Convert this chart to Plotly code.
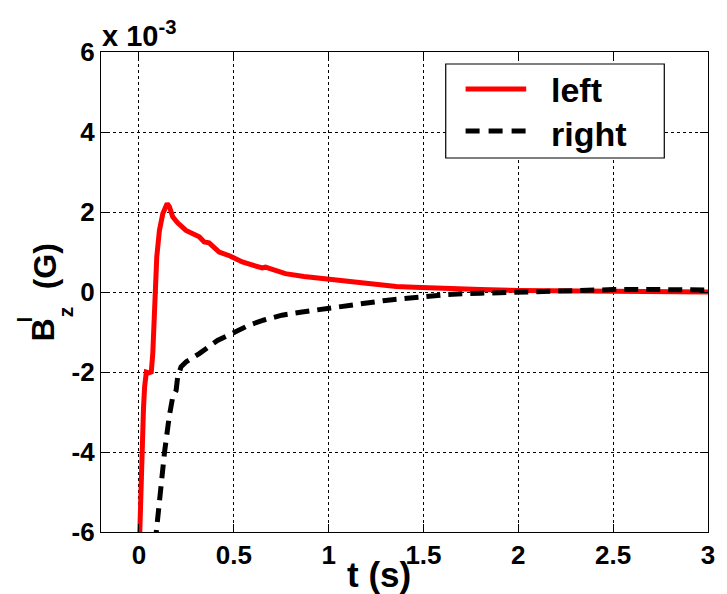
import plotly.graph_objects as go

# Time axis (s) and B_z^l in units of 1e-3 G
t_left = [0.002, 0.004, 0.012, 0.018, 0.024, 0.030, 0.039, 0.052, 0.065, 0.073, 0.079,
          0.086, 0.094, 0.108, 0.126, 0.149, 0.161, 0.178, 0.204, 0.248, 0.292, 0.318,
          0.344, 0.370, 0.423, 0.480, 0.545, 0.610, 0.650, 0.667, 0.700, 0.772, 0.870,
          0.980, 1.080, 1.190, 1.260, 1.357, 1.450, 1.610, 1.800, 2.000, 2.250, 2.500,
          2.750, 3.000]
bz_left = [-6.4, -6.0, -4.46, -3.58, -2.9, -2.37, -2.0, -2.02, -2.0, -1.54, -0.71,
           0.13, 0.88, 1.54, 1.96, 2.21, 2.13, 1.88, 1.73, 1.54, 1.46, 1.38,
           1.25, 1.23, 1.0, 0.9, 0.75, 0.66, 0.6, 0.62, 0.56, 0.46, 0.39,
           0.33, 0.27, 0.21, 0.18, 0.14, 0.12, 0.08, 0.06, 0.04, 0.03, 0.02,
           0.01, 0.0]

t_right = [0.085, 0.091, 0.108, 0.135, 0.160, 0.178, 0.196, 0.204, 0.222, 0.248, 0.318,
           0.414, 0.490, 0.580, 0.660, 0.754, 0.860, 0.980, 1.130, 1.300, 1.500,
           1.630, 1.800, 2.000, 2.300, 2.500, 2.750, 3.000]
bz_right = [-6.3, -6.0, -5.2, -4.0, -3.1, -2.63, -2.46, -2.13, -1.87, -1.75, -1.54,
            -1.21, -1.04, -0.83, -0.70, -0.58, -0.50, -0.42, -0.31, -0.21, -0.12,
            -0.06, -0.03, 0.0, 0.03, 0.06, 0.06, 0.05]

x_ticks = [0, 0.5, 1, 1.5, 2, 2.5, 3]
x_tick_text = ["0", "0.5", "1", "1.5", "2", "2.5", "3"]
y_ticks = [-6, -4, -2, 0, 2, 4, 6]
y_tick_text = ["-6", "-4", "-2", "0", "2", "4", "6"]
series_names = ["left", "right"]

FONT = "Liberation Sans"
W, H = 727, 594
ML, MR, MT, MB = 101, 15, 52, 62
PW, PH = W - ML - MR, H - MT - MB


def px(x):
    return (x - ML) / PW


def py(y):
    return (H - MB - y) / PH


fig = go.Figure()
fig.add_trace(go.Scatter(x=t_left, y=bz_left, mode="lines", name=series_names[0],
                         line=dict(color="#ff0000", width=5), showlegend=False))
fig.add_trace(go.Scatter(x=t_right, y=bz_right, mode="lines", name=series_names[1],
                         line=dict(color="#000000", width=5, dash="14px,8px"),
                         showlegend=False))

axis_common = dict(
    showline=True, mirror="ticks", linecolor="black", linewidth=1.2,
    ticks="inside", ticklen=8, tickcolor="black", tickwidth=1,
    showgrid=True, gridcolor="black", gridwidth=1, griddash="3px,3px",
    zeroline=False,
    tickfont=dict(family=FONT, size=26, color="black", weight="bold"),
)

fig.update_xaxes(range=[-0.2, 3], tickvals=x_ticks, ticktext=x_tick_text, **axis_common)
fig.update_yaxes(range=[-6, 6], tickvals=y_ticks, ticktext=y_tick_text, **axis_common)

annotations = [
    # exponent multiplier
    dict(x=px(100), y=py(34), text="x 10<sup>-3</sup>", xanchor="left", yanchor="middle",
         font=dict(size=29, weight="bold")),
    # x axis title
    dict(x=px(381), y=py(574), text="t (s)", xanchor="center", yanchor="middle",
         font=dict(size=35, weight="bold")),
    # y axis title, stacked sub/superscript
    dict(x=px(43), y=py(330), text="B", textangle=-90, xanchor="center", yanchor="middle",
         font=dict(size=32, weight="bold")),
    dict(x=px(23), y=py(320), text="l", textangle=-90, xanchor="center", yanchor="middle",
         font=dict(size=21, weight="bold")),
    dict(x=px(65), y=py(312), text="z", textangle=-90, xanchor="center", yanchor="middle",
         font=dict(size=21, weight="bold")),
    dict(x=px(45), y=py(266), text="(G)", textangle=-90, xanchor="center", yanchor="middle",
         font=dict(size=32, weight="bold")),
    # legend labels
    dict(x=px(552), y=py(90), text=series_names[0], xanchor="left", yanchor="middle",
         font=dict(size=34, weight="bold")),
    dict(x=px(552), y=py(134), text=series_names[1], xanchor="left", yanchor="middle",
         font=dict(size=34, weight="bold")),
]
for a in annotations:
    a.update(xref="paper", yref="paper", showarrow=False)
    a["font"].update(family=FONT, color="black")

shapes = [
    dict(type="rect", x0=px(448), x1=px(668), y0=py(64), y1=py(158),
         line=dict(color="black", width=1.2), fillcolor="white", layer="above"),
    dict(type="line", x0=px(468), x1=px(529), y0=py(89), y1=py(89),
         line=dict(color="#ff0000", width=5), layer="above"),
    dict(type="line", x0=px(468), x1=px(529), y0=py(131), y1=py(131),
         line=dict(color="black", width=5, dash="14px,9px"), layer="above"),
]
for s in shapes:
    s.update(xref="paper", yref="paper")

fig.update_layout(
    width=W, height=H,
    margin=dict(l=ML, r=MR, t=MT, b=MB),
    paper_bgcolor="white", plot_bgcolor="white",
    showlegend=False,
    annotations=annotations, shapes=shapes,
)

fig.write_html("out.html")
